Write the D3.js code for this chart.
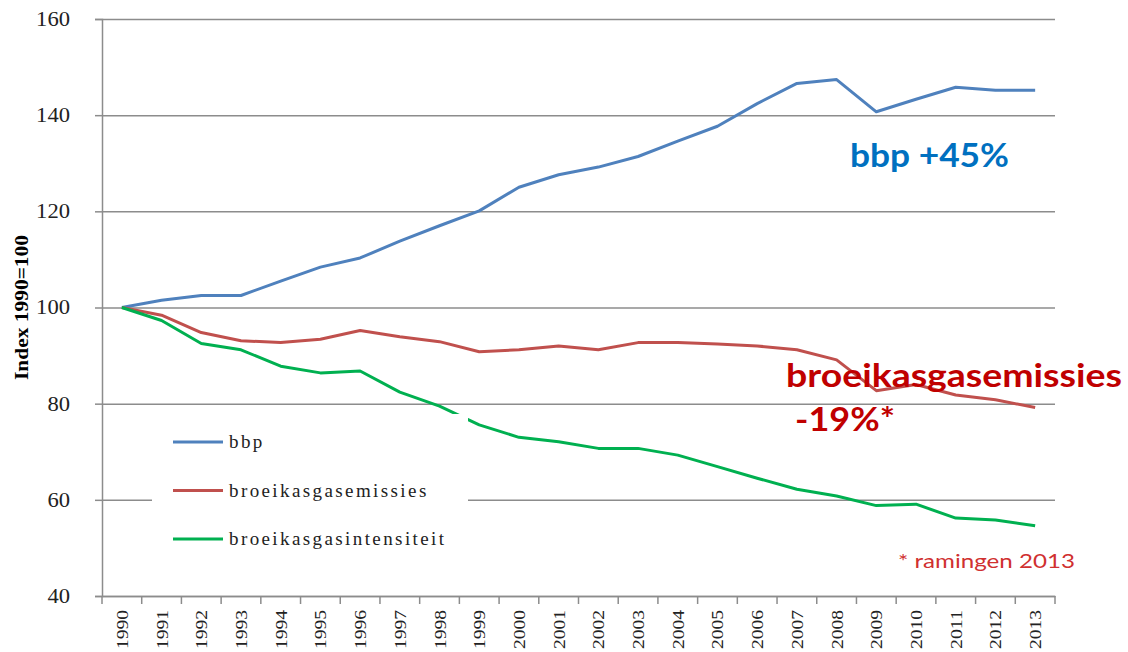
<!DOCTYPE html>
<html>
<head>
<meta charset="utf-8">
<script src="https://cdn.jsdelivr.net/npm/d3@7"></script>
<style>
  body { margin: 0; background: #fff; }
  svg { display: block; }
</style>
</head>
<body>
<div id="chart"></div>
<script>
const years = d3.range(1990, 2014).map(String);

const bbp = [100, 101.5, 102.5, 102.5, 105.5, 108.4, 110.3, 113.8, 117, 120.1, 125, 127.6, 129.2,
  131.4, 134.6, 137.7, 142.4, 146.6, 147.4, 140.7, 143.3, 145.8, 145.2, 145.2];
const emissies = [100, 98.4, 94.8, 93.1, 92.7, 93.4, 95.2, 93.9, 92.9, 90.8, 91.2, 92, 91.2,
  92.7, 92.7, 92.4, 92, 91.2, 89.1, 82.7, 84, 81.8, 80.8, 79.2];
const intensiteit = [100, 97.3, 92.5, 91.2, 87.8, 86.4, 86.8, 82.4, 79.5, 75.6, 73, 72.1, 70.7,
  70.7, 69.3, 66.9, 64.5, 62.2, 60.8, 58.8, 59.1, 56.2, 55.8, 54.6];

const seriesNames = ['bbp', 'broeikasgasemissies', 'broeikasgasintensiteit'];
const seriesColors = ['#4f81bd', '#c0504d', '#00b050'];
const yTicks = [40, 60, 80, 100, 120, 140, 160];

const width = 1128;
const height = 652;
const margin = { top: 19, right: 73, bottom: 56, left: 102 };

const usableArea = {
  top: margin.top,
  right: width - margin.right,
  bottom: height - margin.bottom,
  left: margin.left,
};

const svg = d3.select('#chart')
  .append('svg')
  .attr('width', width)
  .attr('height', height);

const xScale = d3.scaleBand()
  .domain(years)
  .range([usableArea.left, usableArea.right]);

const yScale = d3.scaleLinear()
  .domain([40, 160])
  .range([usableArea.bottom, usableArea.top]);

const serif = '"Liberation Serif", "DejaVu Serif", serif';
const sans = 'Lato, "Open Sans", sans-serif';
const gridColor = '#8c8c8c';

// horizontal gridlines
svg.append('g')
  .attr('class', 'gridlines')
  .attr('transform', `translate(${usableArea.left}, 0)`)
  .call(d3.axisLeft(yScale).tickValues(yTicks).tickFormat('')
    .tickSize(-(usableArea.right - usableArea.left)))
  .call((g) => g.select('.domain').remove())
  .call((g) => g.selectAll('line').attr('stroke', gridColor).attr('stroke-width', 1.5));

// y axis
const yAxis = svg.append('g')
  .attr('transform', `translate(${usableArea.left}, 0)`)
  .call(d3.axisLeft(yScale).tickValues(yTicks).tickSize(7).tickPadding(25));
yAxis.select('.domain').attr('stroke', gridColor).attr('stroke-width', 1.5);
yAxis.selectAll('line').attr('stroke', gridColor).attr('stroke-width', 1.5);
yAxis.selectAll('text')
  .attr('font-family', serif)
  .attr('font-size', 20)
  .attr('fill', '#222')
  .attr('textLength', (d) => String(d).length * 11.3)
  .attr('lengthAdjust', 'spacingAndGlyphs');

// x axis
const xAxis = svg.append('g')
  .attr('transform', `translate(0, ${usableArea.bottom})`)
  .call(d3.axisBottom(xScale).tickSize(0).tickFormat(''));
xAxis.select('.domain').attr('stroke', gridColor).attr('stroke-width', 1.5);

// tick marks at band edges
svg.append('g')
  .selectAll('line')
  .data(years.concat(['end']))
  .join('line')
  .attr('x1', (d) => d === 'end' ? usableArea.right : xScale(d))
  .attr('x2', (d) => d === 'end' ? usableArea.right : xScale(d))
  .attr('y1', usableArea.bottom)
  .attr('y2', usableArea.bottom + 8)
  .attr('stroke', gridColor)
  .attr('stroke-width', 1.5);

svg.append('g')
  .selectAll('text')
  .data(years)
  .join('text')
  .attr('transform', (d) => `translate(${xScale(d) + xScale.bandwidth() / 2 + 6}, ${usableArea.bottom + 14}) rotate(-90)`)
  .attr('text-anchor', 'end')
  .attr('font-family', serif)
  .attr('font-size', 17)
  .attr('fill', '#222')
  .attr('textLength', 39)
  .attr('lengthAdjust', 'spacingAndGlyphs')
  .text((d) => d);

// y axis title
svg.append('text')
  .attr('transform', `translate(28, ${yScale(100)}) rotate(-90)`)
  .attr('text-anchor', 'middle')
  .attr('font-family', serif)
  .attr('font-weight', 'bold')
  .attr('font-size', 18)
  .attr('fill', '#000')
  .attr('textLength', 145)
  .attr('lengthAdjust', 'spacingAndGlyphs')
  .text('Index 1990=100');

// lines
const allSeries = [bbp, emissies, intensiteit];
const line = d3.line()
  .x((d, i) => xScale(years[i]) + xScale.bandwidth() / 2)
  .y((d) => yScale(d));

svg.append('g')
  .selectAll('path')
  .data(allSeries)
  .join('path')
  .attr('d', line)
  .attr('fill', 'none')
  .attr('stroke', (d, i) => seriesColors[i])
  .attr('stroke-width', 3)
  .attr('stroke-linejoin', 'round');

// legend (white box, covers what lies under it)
const legend = svg.append('g');
legend.append('rect')
  .attr('x', 152)
  .attr('y', 414)
  .attr('width', 316)
  .attr('height', 150)
  .attr('fill', '#fff');

const legendRows = legend.selectAll('g.row')
  .data(seriesNames)
  .join('g')
  .attr('class', 'row')
  .attr('transform', (d, i) => `translate(173, ${442 + i * 48.5})`);

legendRows.append('line')
  .attr('x1', 0)
  .attr('x2', 50)
  .attr('stroke', (d, i) => seriesColors[i])
  .attr('stroke-width', 3);

legendRows.append('text')
  .attr('x', 56)
  .attr('y', 6)
  .attr('font-family', serif)
  .attr('font-size', 19)
  .attr('letter-spacing', 2.4)
  .attr('fill', '#222')
  .text((d) => d);

// annotations
const notes = [
  { text: 'bbp +45%', x: 850, y: 167, len: 159, size: 32, weight: 'bold', color: '#0070c0' },
  { text: 'broeikasgasemissies', x: 786, y: 387, len: 336, size: 32, weight: 'bold', color: '#c00000' },
  { text: '-19%*', x: 795, y: 431, len: 100, size: 32, weight: 'bold', color: '#c00000' },
  { text: '* ramingen 2013', x: 898, y: 568, len: 177, size: 19, weight: 'normal', color: '#d03030' },
];

svg.append('g')
  .selectAll('text')
  .data(notes)
  .join('text')
  .attr('x', (d) => d.x)
  .attr('y', (d) => d.y)
  .attr('font-family', sans)
  .attr('font-weight', (d) => d.weight)
  .attr('font-size', (d) => d.size)
  .attr('fill', (d) => d.color)
  .attr('textLength', (d) => d.len)
  .attr('lengthAdjust', 'spacingAndGlyphs')
  .text((d) => d.text);
</script>
</body>
</html>
